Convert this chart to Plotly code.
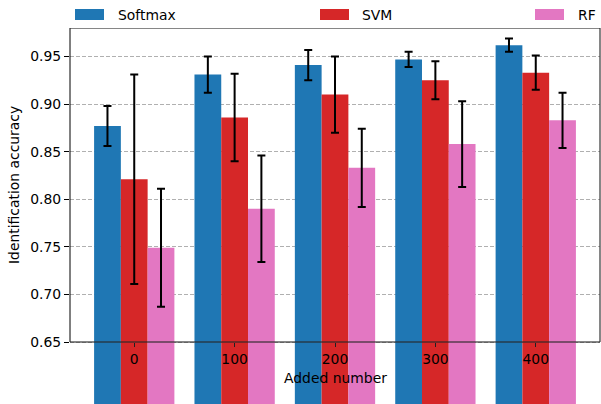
import plotly.graph_objects as go

# ---- data ----
added_number = ["0", "100", "200", "300", "400"]
series_names = ["Softmax", "SVM", "RF"]
series_colors = ["#1f77b4", "#d62728", "#e377c2"]
softmax_acc = [0.877, 0.931, 0.941, 0.947, 0.962]
softmax_err = [0.021, 0.019, 0.016, 0.008, 0.007]
svm_acc = [0.821, 0.886, 0.910, 0.925, 0.933]
svm_err = [0.110, 0.046, 0.040, 0.020, 0.018]
rf_acc = [0.749, 0.790, 0.833, 0.858, 0.883]
rf_err = [0.062, 0.056, 0.041, 0.045, 0.029]
y_tick_vals = [0.65, 0.70, 0.75, 0.80, 0.85, 0.90, 0.95]
y_tick_text = ["0.65", "0.70", "0.75", "0.80", "0.85", "0.90", "0.95"]

values = [softmax_acc, svm_acc, rf_acc]
errors = [softmax_err, svm_err, rf_err]

# ---- layout geometry ----
W, H = 601, 404
ML, MR, MT, MB = 70, 1, 28, 0
PW, PH = W - ML - MR, H - MT - MB
Y_AX_LO, Y_AX_HI = 0.65, 0.98       # visible axes box
AX_BOTTOM_PX = 342                   # pixel row of y = 0.65
scale = (Y_AX_HI - Y_AX_LO) / (AX_BOTTOM_PX - MT)
y_lo = Y_AX_HI - PH * scale          # plot area extends to figure bottom
x_range = [-0.64, 4.64]
FONT = "DejaVu Sans"
FS = 13.9

def px_x(p):
    return (p - ML) / PW

def px_y(p):
    return (H - MB - p) / PH

xpos = list(range(len(added_number)))

fig = go.Figure()
for name, col, v, e in zip(series_names, series_colors, values, errors):
    fig.add_trace(go.Bar(
        x=xpos, y=v, name=name, marker=dict(color=col, line=dict(width=0)),
        error_y=dict(type="data", array=e, visible=True, color="black",
                     thickness=2, width=4),
        showlegend=False,
    ))

shapes = []
annotations = []
# axes frame
shapes.append(dict(type="line", xref="paper", yref="y", x0=0, x1=0,
                   y0=Y_AX_LO, y1=Y_AX_HI, line=dict(color="black", width=1),
                   layer="above"))
for (x0, x1, y0, y1) in [(0, 1, Y_AX_HI, Y_AX_HI), (1, 1, Y_AX_LO, Y_AX_HI),
                         (0, 1, Y_AX_LO, Y_AX_LO)]:
    shapes.append(dict(type="line", xref="paper", yref="y", x0=x0, x1=x1,
                       y0=y0, y1=y1, line=dict(color="rgba(40,40,40,0.75)", width=1.5),
                       layer="above"))

# legend (matplotlib-style, expanded across the top)
legend_px = [(75, 116), (320, 360), (535, 576)]
for (hx, tx), name, col in zip(legend_px, series_names, series_colors):
    shapes.append(dict(type="rect", xref="paper", yref="paper",
                       x0=px_x(hx), x1=px_x(hx + 29), y0=px_y(20), y1=px_y(9),
                       fillcolor=col, line=dict(width=0), layer="above"))
    annotations.append(dict(text=name, xref="paper", yref="paper",
                            x=px_x(tx), y=px_y(14.5), xanchor="left", yanchor="middle",
                            showarrow=False, font=dict(family=FONT, size=FS, color="black")))

# axis titles
annotations.append(dict(text="Added number", xref="paper", yref="paper",
                        x=px_x(335), y=px_y(378), xanchor="center", yanchor="middle",
                        showarrow=False, font=dict(family=FONT, size=FS, color="black")))
annotations.append(dict(text="Identification accuracy", xref="paper", yref="y",
                        x=px_x(14), y=(Y_AX_LO + Y_AX_HI) / 2, xanchor="center",
                        yanchor="middle", textangle=-90, showarrow=False,
                        font=dict(family=FONT, size=FS, color="black")))

fig.update_layout(
    width=W, height=H,
    margin=dict(l=ML, r=MR, t=MT, b=MB, pad=0),
    paper_bgcolor="white", plot_bgcolor="white",
    barmode="group", bargap=0.2, bargroupgap=0,
    font=dict(family=FONT, size=FS, color="black"),
    shapes=shapes, annotations=annotations,
    xaxis=dict(range=x_range, tickvals=xpos, ticktext=added_number,
               anchor="free", position=(Y_AX_LO - y_lo) / (Y_AX_HI - y_lo),
               showgrid=False, zeroline=False, showline=False,
               ticks="outside", ticklen=4, tickwidth=1, tickcolor="#222",
               tickfont=dict(family=FONT, size=FS, color="black"),
               automargin=False),
    yaxis=dict(range=[y_lo, Y_AX_HI], tickvals=y_tick_vals, ticktext=y_tick_text,
               showgrid=True, gridcolor="#b0b0b0", gridwidth=1, griddash="4px,2px",
               zeroline=False, showline=False,
               ticks="outside", ticklen=5, tickwidth=1, tickcolor="black",
               tickfont=dict(family=FONT, size=FS, color="black"),
               automargin=False),
)

fig.write_html("out.html", config={"displayModeBar": False},
               post_script="document.body.style.margin='0';document.body.style.padding='0';")
